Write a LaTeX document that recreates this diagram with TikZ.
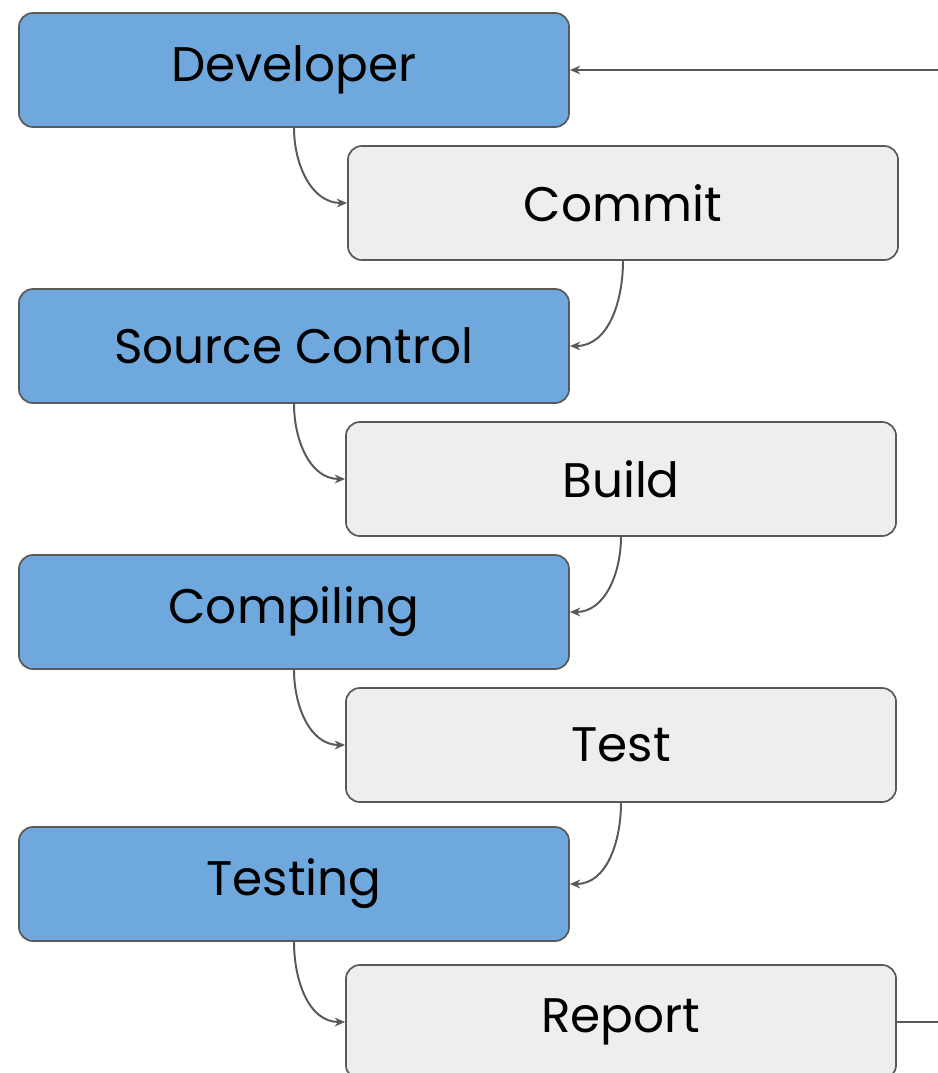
\documentclass[tikz,border=0pt]{standalone}
\usepackage{fontspec}
\setmainfont{Poppins}
\usetikzlibrary{arrows.meta}

\definecolor{stageblue}{HTML}{6FA8DC}
\definecolor{stepgrey}{HTML}{EEEEEE}
\definecolor{edgegrey}{HTML}{595959}

\begin{document}
\begin{tikzpicture}[
    x=0.025cm, y=-0.025cm,
    box/.style={rectangle, draw=edgegrey, line width=1.2pt, rounded corners=0.35cm, minimum width=13.75cm, minimum height=2.85cm, align=center, font=\fontsize{34.5}{40}\selectfont, text=black},
    stage/.style={box, fill=stageblue},
    stepbox/.style={box, fill=stepgrey},
    arrow/.style={-{Stealth[length=2.6mm, width=2.2mm]}, line width=1.4pt, color=edgegrey}
]
    \useasboundingbox (0,0) rectangle (938,1073);

    % Stages on the left
    \node[stage] (developer) at (294,70) {Developer};
    \node[stage] (source) at (294,346) {Source Control};
    \node[stage] (compiling) at (294,612) {Compiling};
    \node[stage] (testing) at (294,884) {Testing};

    % Steps on the right
    \node[stepbox] (commit) at (623,203) {Commit};
    \node[stepbox] (build) at (621,479) {Build};
    \node[stepbox] (test) at (621,745) {Test};
    \node[stepbox] (report) at (621,1022) {Report};

    % Arrows
    \draw[arrow] (developer.south) to[out=-90, in=180] (commit.west);
    \draw[arrow] (commit.south) to[out=-90, in=0] (source.east);
    \draw[arrow] (source.south) to[out=-90, in=180] (build.west);
    \draw[arrow] (build.south) to[out=-90, in=0] (compiling.east);
    \draw[arrow] (compiling.south) to[out=-90, in=180] (test.west);
    \draw[arrow] (test.south) to[out=-90, in=0] (testing.east);
    \draw[arrow] (testing.south) to[out=-90, in=180] (report.west);

    % Feedback loop
    \draw[arrow] (report.east) -- ++(80,0) |- (developer.east);
\end{tikzpicture}
\end{document}
